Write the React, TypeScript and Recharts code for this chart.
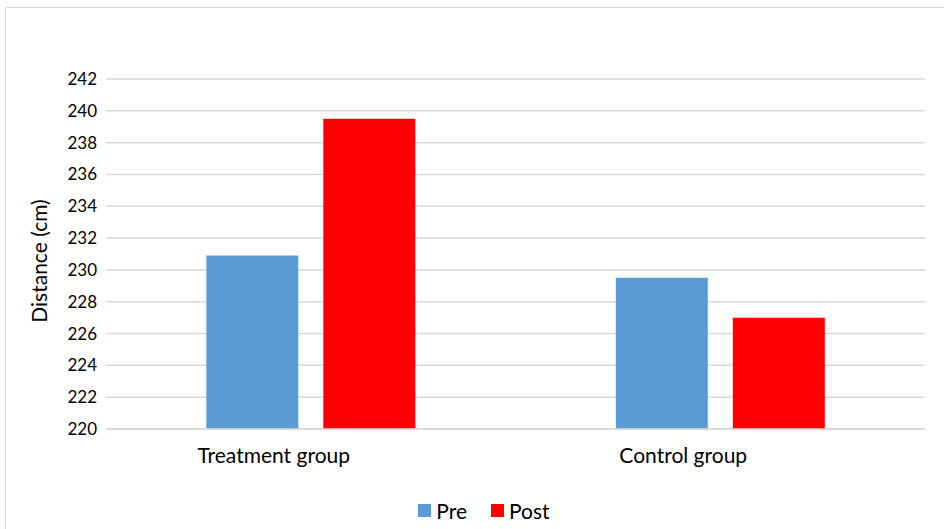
import { BarChart, Bar, XAxis, YAxis, CartesianGrid, Legend } from "recharts";

const groups = ["Treatment group", "Control group"];
const preValues = [230.9, 229.5];
const postValues = [239.5, 227.0];
const yTicks = [220, 222, 224, 226, 228, 230, 232, 234, 236, 238, 240, 242];

const data = groups.map((g, i) => ({ group: g, pre: preValues[i], post: postValues[i] }));

const FONT = "Lato, 'Open Sans', sans-serif";

const series = [
  { key: "pre", name: "Pre", color: "#5B9BD5" },
  { key: "post", name: "Post", color: "#FF0000" },
];

function LegendContent() {
  return (
    <div style={{ display: "flex", justifyContent: "center", alignItems: "center", fontFamily: FONT, fontSize: 21, color: "#000" }}>
      {series.map((s) => (
        <div key={s.key} style={{ display: "flex", alignItems: "center", marginRight: 24 }}>
          <span style={{ display: "inline-block", width: 13, height: 13, background: s.color, marginRight: 5 }} />
          <span>{s.name}</span>
        </div>
      ))}
    </div>
  );
}

export default function App() {
  return (
    <div style={{ position: "absolute", left: 0, top: 0, width: 944, height: 529, background: "#fff", overflow: "hidden" }}>
      <div style={{ position: "absolute", left: 5, top: 7, width: 960, height: 560, border: "1px solid #d9d9d9" }} />
      <BarChart
        width={944}
        height={529}
        data={data}
        margin={{ top: 79, right: 19, bottom: 7, left: 0 }}
        barCategoryGap="24.5%"
        barGap={25}
      >
        <CartesianGrid vertical={false} stroke="#d9d9d9" strokeWidth={1.5} />
        <XAxis
          dataKey="group"
          axisLine={{ stroke: "#d9d9d9", strokeWidth: 1.5 }}
          tickLine={false}
          tickSize={0}
          tickMargin={19}
          height={69}
          tick={{ fontSize: 21, fill: "#000", fontFamily: FONT, dx: -37 }}
        />
        <YAxis
          domain={[220, 242]}
          ticks={yTicks}
          width={106}
          axisLine={false}
          tickLine={false}
          tickSize={0}
          tickMargin={9}
          interval={0}
          tick={{ fontSize: 17, fill: "#000", fontFamily: FONT }}
          label={{
            content: (props: any) => {
              const vb = props.viewBox;
              const x = vb.x + 38;
              const y = vb.y + vb.height / 2 + 7;
              return (
                <text x={x} y={y} transform={`rotate(-90 ${x} ${y})`} textAnchor="middle" dominantBaseline="central" fontSize={21} fontFamily={FONT} fill="#000">
                  Distance (cm)
                </text>
              );
            },
          }}
        />
        <Legend verticalAlign="bottom" height={24} content={<LegendContent />} wrapperStyle={{ left: 24, width: 944 }} />
        {series.map((s) => (
          <Bar key={s.key} dataKey={s.key} name={s.name} fill={s.color} isAnimationActive={false} />
        ))}
      </BarChart>
    </div>
  );
}
